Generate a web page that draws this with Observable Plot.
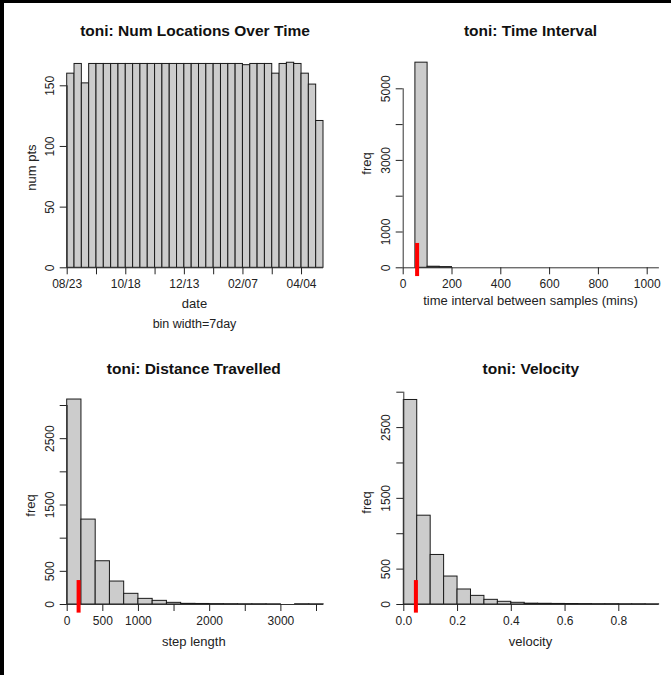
<!DOCTYPE html>
<html>
<head>
<meta charset="utf-8">
<script src="https://cdn.jsdelivr.net/npm/d3@7"></script>
<script src="https://cdn.jsdelivr.net/npm/@observablehq/plot@0.6"></script>
<style>
  html, body { margin: 0; padding: 0; background: #fff; }
  #page { position: relative; width: 671px; height: 675px; overflow: hidden; background: #fff;
          font-family: "Liberation Sans", Arial, sans-serif; }
  .panel { position: absolute; }
  #borderTop { position: absolute; left: 0; top: 0; width: 671px; height: 3px; background: #000; }
  #borderLeft { position: absolute; left: 0; top: 0; width: 4px; height: 675px; background: #000; }
</style>
</head>
<body>
<div id="page"><div id="borderTop"></div><div id="borderLeft"></div></div>
<script>
// ---------------- DATA ----------------
const titles = ["toni: Num Locations Over Time", "toni: Time Interval", "toni: Distance Travelled", "toni: Velocity"];

// Panel 1: weekly location counts
const locStart = "2008-08-23";
const locBinDays = 7;
const locCounts = [160, 168, 152,
  168, 168, 168, 168, 168, 168, 168, 168, 168, 168, 168, 168, 168, 168, 168, 168, 168, 168, 168, 168, 168,
  167, 168, 168, 168,
  160, 168, 169, 168, 160, 151, 121];
const locXTicks = ["2008-08-23", "2008-09-20", "2008-10-18", "2008-11-15", "2008-12-13", "2009-01-10", "2009-02-07", "2009-03-07", "2009-04-04"];
const locXLabels = ["08/23", "", "10/18", "", "12/13", "", "02/07", "", "04/04"];
const locYTicks = [0, 50, 100, 150];
const locYLabels = ["0", "50", "100", "150"];

// Panel 2: time interval histogram (bin width 50)
const intBinStart = 0;
const intBinWidth = 50;
const intCounts = [0, 5730, 30, 20, 0, 0, 0, 0, 0, 0, 0, 0, 0, 0, 0, 0, 0, 0, 0, 0, 0];
const intXTicks = [0, 200, 400, 600, 800, 1000];
const intXLabels = ["0", "200", "400", "600", "800", "1000"];
const intYTicks = [0, 1000, 2000, 3000, 4000, 5000];
const intYLabels = ["0", "1000", "", "3000", "", "5000"];
const intMarker = 57;
const intMarkerSpan = [-245, 680];

// Panel 3: step length histogram (bin width 200)
const stepBinStart = 0;
const stepBinWidth = 200;
const stepCounts = [3090, 1280, 652, 346, 161, 85, 55, 25, 10, 8, 6, 5, 4, 4, 3, 0, 4, 3];
const stepXTicks = [0, 500, 1000, 1500, 2000, 2500, 3000, 3500];
const stepXLabels = ["0", "500", "1000", "", "2000", "", "3000", ""];
const stepYTicks = [0, 500, 1000, 1500, 2000, 2500, 3000];
const stepYLabels = ["0", "500", "", "1500", "", "2500", ""];
const stepMarker = 160;
const stepMarkerSpan = [-130, 361];

// Panel 4: velocity histogram (bin width 0.05)
const velBinStart = 0;
const velBinWidth = 0.05;
const velCounts = [2890, 1255, 700, 395, 212, 122, 66, 38, 24, 12, 10, 8, 7, 6, 5, 5, 4, 4, 3];
const velXTicks = [0, 0.2, 0.4, 0.6, 0.8];
const velXLabels = ["0.0", "0.2", "0.4", "0.6", "0.8"];
const velYTicks = [0, 500, 1000, 1500, 2000, 2500, 3000];
const velYLabels = ["0", "500", "", "1500", "", "2500", ""];
const velMarker = 0.045;
const velMarkerSpan = [-122, 338];

// ---------------- BUILD ----------------
const FONT = '"Liberation Sans", Arial, sans-serif';
const parseDate = d3.utcParse("%Y-%m-%d");

function numBins(start, width, counts) {
  return counts.map((c, i) => ({x1: start + i * width, x2: start + (i + 1) * width, count: c}));
}
function dateBins(start, days, counts) {
  const s = parseDate(start);
  return counts.map((c, i) => ({x1: d3.utcDay.offset(s, i * days), x2: d3.utcDay.offset(s, (i + 1) * days), count: c}));
}

function panel(cfg) {
  const L = cfg.layout;
  const labelMap = (ticks, labels) => new Map(ticks.map((t, i) => [+t, labels[i]]));
  const xl = labelMap(cfg.xTicks, cfg.xLabels);
  const yl = labelMap(cfg.yTicks, cfg.yLabels);
  const bins = cfg.bins;
  const x0 = bins[0].x1;
  const baseMin = +cfg.xTicks[0] < +x0 ? cfg.xTicks[0] : x0;
  const baseMax = +cfg.xTicks[cfg.xTicks.length - 1] > +bins[bins.length - 1].x2 ? cfg.xTicks[cfg.xTicks.length - 1] : bins[bins.length - 1].x2;
  const marks = [
    Plot.rectY(bins.filter(d => d.count > 0), {x1: "x1", x2: "x2", y: "count", fill: "#cccccc", stroke: "#1a1a1a", strokeWidth: 1}),
    Plot.ruleY([0], {x1: () => baseMin, x2: () => baseMax, stroke: "#333", strokeWidth: 1}),
    Plot.ruleX([x0], {y1: 0, y2: cfg.yTicks[cfg.yTicks.length - 1], stroke: "#333", strokeWidth: 1}),
    Plot.axisX({ticks: cfg.xTicks, tickFormat: d => xl.get(+d) ?? "", tickSize: 7, tickPadding: 5,
      fontSize: 12, color: "#222", label: null}),
    Plot.axisY({ticks: cfg.yTicks, tickFormat: d => yl.get(+d) ?? "", tickSize: 7, tickPadding: 6.4, tickRotate: -90,
      fontSize: 12, color: "#222", label: null}),
    Plot.text([cfg.title], {frameAnchor: "top-left", dx: L.title[0] - L.axisLeft, dy: L.title[1],
      textAnchor: "middle", lineAnchor: "bottom", fontWeight: "bold", fontSize: 15.5, fill: "#111"}),
    Plot.text([cfg.yTitle], {frameAnchor: "top-left", dx: L.yTitle[0] - L.axisLeft, dy: L.yTitle[1],
      textAnchor: "middle", lineAnchor: "middle", rotate: -90, fontSize: 13, fill: "#222"}),
    Plot.text([cfg.xTitle], {frameAnchor: "top-left", dx: L.xTitle[0] - L.axisLeft, dy: L.xTitle[1],
      textAnchor: "middle", lineAnchor: "bottom", fontSize: 13, fill: "#222"})
  ];
  if (cfg.xSub) {
    marks.push(Plot.text([cfg.xSub], {frameAnchor: "top-left", dx: L.xSub[0] - L.axisLeft, dy: L.xSub[1],
      textAnchor: "middle", lineAnchor: "bottom", fontSize: 12.5, fill: "#222"}));
  }
  if (cfg.marker !== undefined) {
    marks.push(Plot.ruleX([cfg.marker], {y1: cfg.markerSpan[0], y2: cfg.markerSpan[1], stroke: "#ff0000", strokeWidth: 4}));
  }
  const svg = Plot.plot({
    width: L.width, height: L.height,
    marginLeft: L.axisLeft, marginBottom: L.height - L.axisBottom, marginTop: 0, marginRight: 0,
    style: {fontFamily: FONT, fontSize: "12px", background: "transparent", overflow: "visible", color: "#222"},
    x: {type: cfg.xType, domain: cfg.xDomain, range: L.xRange, label: null},
    y: {type: "linear", domain: cfg.yDomain, range: L.yRange, label: null},
    marks
  });
  const div = document.createElement("div");
  div.className = "panel";
  div.style.left = L.left + "px";
  div.style.top = L.top + "px";
  div.appendChild(svg);
  document.getElementById("page").appendChild(div);
}

const locBins = dateBins(locStart, locBinDays, locCounts);
panel({
  title: titles[0], yTitle: "num pts", xTitle: "date", xSub: "bin width=7day",
  bins: locBins, xType: "utc",
  xDomain: [locBins[0].x1, locBins[locBins.length - 1].x2], yDomain: [0, 150],
  xTicks: locXTicks.map(parseDate), xLabels: locXLabels, yTicks: locYTicks, yLabels: locYLabels,
  layout: {left: 0, top: 0, width: 335, height: 337, axisLeft: 66.7, axisBottom: 267.3,
    xRange: [66.7, 323], yRange: [267.3, 85.3],
    title: [194.5, 35], yTitle: [31, 167], xTitle: [194, 307], xSub: [194, 327]}
});

panel({
  title: titles[1], yTitle: "freq", xTitle: "time interval between samples (mins)",
  bins: numBins(intBinStart, intBinWidth, intCounts), xType: "linear",
  xDomain: [0, 1000], yDomain: [0, 5000],
  xTicks: intXTicks, xLabels: intXLabels, yTicks: intYTicks, yLabels: intYLabels,
  marker: intMarker, markerSpan: intMarkerSpan,
  layout: {left: 335, top: 0, width: 336, height: 337, axisLeft: 67.7, axisBottom: 267.3,
    xRange: [67.7, 311.7], yRange: [267.3, 88.3],
    title: [195, 35], yTitle: [31, 163], xTitle: [195, 304]}
});

panel({
  title: titles[2], yTitle: "freq", xTitle: "step length",
  bins: numBins(stepBinStart, stepBinWidth, stepCounts), xType: "linear",
  xDomain: [0, 3500], yDomain: [0, 3000],
  xTicks: stepXTicks, xLabels: stepXLabels, yTicks: stepYTicks, yLabels: stepYLabels,
  marker: stepMarker, markerSpan: stepMarkerSpan,
  layout: {left: 0, top: 337, width: 335, height: 338, axisLeft: 66.7, axisBottom: 267,
    xRange: [66.7, 316], yRange: [267, 68],
    title: [193.3, 36.3], yTitle: [30, 168], xTitle: [193.3, 308]}
});

panel({
  title: titles[3], yTitle: "freq", xTitle: "velocity",
  bins: numBins(velBinStart, velBinWidth, velCounts), xType: "linear",
  xDomain: [0, 0.8], yDomain: [0, 3000],
  xTicks: velXTicks, xLabels: velXLabels, yTicks: velYTicks, yLabels: velYLabels,
  marker: velMarker, markerSpan: velMarkerSpan,
  layout: {left: 335, top: 337, width: 336, height: 338, axisLeft: 68.3, axisBottom: 267,
    xRange: [68.3, 283.3], yRange: [267, 54.7],
    title: [195.3, 36.3], yTitle: [31.7, 165], xTitle: [195, 308]}
});
</script>
</body>
</html>
